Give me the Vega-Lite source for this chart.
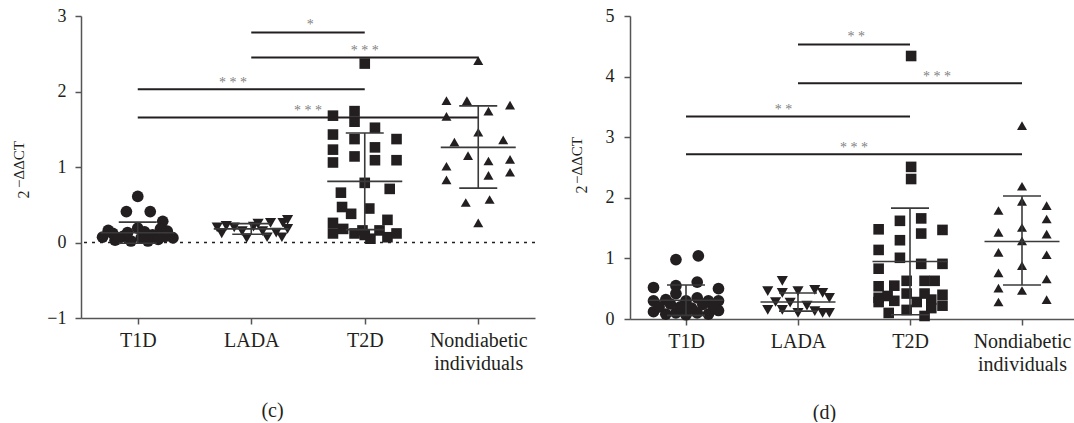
{
  "$schema": "https://vega.github.io/schema/vega-lite/v6.json",
  "background": "white",
  "padding": {"left": 11, "top": 7, "right": 0, "bottom": 0},
  "spacing": 33,
  "config": {
    "view": {"stroke": null},
    "font": "Liberation Serif",
    "style": {"guide-label": {"font": "Liberation Serif"}, "guide-title": {"font": "Liberation Serif"}},
    "axis": {
      "domainColor": "#555555", "tickColor": "#555555", "domainWidth": 1.5, "tickWidth": 1.5,
      "labelColor": "#231f20", "titleColor": "#231f20", "labelFont": "Liberation Serif", "titleFont": "Liberation Serif",
      "labelFontSize": 18, "titleFontWeight": "normal", "grid": false, "tickSize": 6
    }
  },
  "datasets": {
    "c_pts": [
      {"group": "T1D", "x": 1.00, "value": 0.61}, {"group": "T1D", "x": 0.90, "value": 0.41}, {"group": "T1D", "x": 1.11, "value": 0.41},
      {"group": "T1D", "x": 1.22, "value": 0.28}, {"group": "T1D", "x": 1.00, "value": 0.19}, {"group": "T1D", "x": 0.74, "value": 0.16},
      {"group": "T1D", "x": 0.69, "value": 0.07}, {"group": "T1D", "x": 0.80, "value": 0.03}, {"group": "T1D", "x": 0.87, "value": 0.08},
      {"group": "T1D", "x": 0.94, "value": 0.02}, {"group": "T1D", "x": 1.03, "value": 0.06}, {"group": "T1D", "x": 1.09, "value": 0.02},
      {"group": "T1D", "x": 1.13, "value": 0.10}, {"group": "T1D", "x": 1.18, "value": 0.04}, {"group": "T1D", "x": 1.24, "value": 0.08},
      {"group": "T1D", "x": 1.31, "value": 0.06}, {"group": "T1D", "x": 0.78, "value": 0.12}, {"group": "T1D", "x": 1.06, "value": 0.14},
      {"group": "T1D", "x": 0.91, "value": 0.13}, {"group": "T1D", "x": 1.26, "value": 0.15}, {"group": "T1D", "x": 1.20, "value": 0.18},
      {"group": "T1D", "x": 0.83, "value": 0.05},
      {"group": "LADA", "x": 1.70, "value": 0.20}, {"group": "LADA", "x": 1.78, "value": 0.22}, {"group": "LADA", "x": 1.85, "value": 0.20},
      {"group": "LADA", "x": 1.92, "value": 0.15}, {"group": "LADA", "x": 1.96, "value": 0.06}, {"group": "LADA", "x": 2.02, "value": 0.21},
      {"group": "LADA", "x": 2.06, "value": 0.25}, {"group": "LADA", "x": 2.10, "value": 0.15}, {"group": "LADA", "x": 2.14, "value": 0.07},
      {"group": "LADA", "x": 2.17, "value": 0.26}, {"group": "LADA", "x": 2.22, "value": 0.13}, {"group": "LADA", "x": 2.27, "value": 0.07},
      {"group": "LADA", "x": 2.28, "value": 0.26}, {"group": "LADA", "x": 2.32, "value": 0.30}, {"group": "LADA", "x": 2.32, "value": 0.18},
      {"group": "LADA", "x": 1.74, "value": 0.12},
      {"group": "T2D", "x": 3.00, "value": 2.37}, {"group": "T2D", "x": 2.72, "value": 1.68}, {"group": "T2D", "x": 2.91, "value": 1.74},
      {"group": "T2D", "x": 2.91, "value": 1.60}, {"group": "T2D", "x": 3.09, "value": 1.52}, {"group": "T2D", "x": 2.72, "value": 1.43},
      {"group": "T2D", "x": 2.91, "value": 1.37}, {"group": "T2D", "x": 3.28, "value": 1.37}, {"group": "T2D", "x": 3.09, "value": 1.26},
      {"group": "T2D", "x": 2.72, "value": 1.23}, {"group": "T2D", "x": 2.72, "value": 1.06}, {"group": "T2D", "x": 2.91, "value": 1.14},
      {"group": "T2D", "x": 3.09, "value": 1.09}, {"group": "T2D", "x": 3.28, "value": 1.09}, {"group": "T2D", "x": 3.00, "value": 0.79},
      {"group": "T2D", "x": 3.22, "value": 0.71}, {"group": "T2D", "x": 2.79, "value": 0.66}, {"group": "T2D", "x": 2.80, "value": 0.47},
      {"group": "T2D", "x": 2.88, "value": 0.38}, {"group": "T2D", "x": 3.04, "value": 0.45}, {"group": "T2D", "x": 3.20, "value": 0.30},
      {"group": "T2D", "x": 2.72, "value": 0.26}, {"group": "T2D", "x": 2.72, "value": 0.12}, {"group": "T2D", "x": 2.81, "value": 0.18},
      {"group": "T2D", "x": 2.91, "value": 0.12}, {"group": "T2D", "x": 2.98, "value": 0.16}, {"group": "T2D", "x": 3.05, "value": 0.05},
      {"group": "T2D", "x": 3.13, "value": 0.16}, {"group": "T2D", "x": 3.20, "value": 0.07}, {"group": "T2D", "x": 3.28, "value": 0.12},
      {"group": "T2D", "x": 3.00, "value": 0.10},
      {"group": "Nondiabetic individuals", "x": 4.00, "value": 2.41}, {"group": "Nondiabetic individuals", "x": 3.72, "value": 1.88},
      {"group": "Nondiabetic individuals", "x": 3.90, "value": 1.88}, {"group": "Nondiabetic individuals", "x": 4.28, "value": 1.82},
      {"group": "Nondiabetic individuals", "x": 4.09, "value": 1.74}, {"group": "Nondiabetic individuals", "x": 3.72, "value": 1.67},
      {"group": "Nondiabetic individuals", "x": 4.00, "value": 1.46}, {"group": "Nondiabetic individuals", "x": 3.79, "value": 1.33},
      {"group": "Nondiabetic individuals", "x": 4.22, "value": 1.36}, {"group": "Nondiabetic individuals", "x": 3.91, "value": 1.15},
      {"group": "Nondiabetic individuals", "x": 4.09, "value": 1.08}, {"group": "Nondiabetic individuals", "x": 4.28, "value": 1.10},
      {"group": "Nondiabetic individuals", "x": 3.72, "value": 1.01}, {"group": "Nondiabetic individuals", "x": 4.09, "value": 0.89},
      {"group": "Nondiabetic individuals", "x": 4.28, "value": 0.93}, {"group": "Nondiabetic individuals", "x": 3.72, "value": 0.83},
      {"group": "Nondiabetic individuals", "x": 3.89, "value": 0.53}, {"group": "Nondiabetic individuals", "x": 4.10, "value": 0.57},
      {"group": "Nondiabetic individuals", "x": 4.00, "value": 0.26}
    ],
    "c_sum": [
      {"group": "T1D", "pos": 1, "mean": 0.13, "lo": -0.01, "hi": 0.27},
      {"group": "LADA", "pos": 2, "mean": 0.18, "lo": 0.11, "hi": 0.25},
      {"group": "T2D", "pos": 3, "mean": 0.81, "lo": 0.17, "hi": 1.45},
      {"group": "Nondiabetic individuals", "pos": 4, "mean": 1.26, "lo": 0.72, "hi": 1.81}
    ],
    "c_sig": [
      {"from": 1, "to": 4, "y": 1.655, "label": "* * *", "lx": 2.5, "ly": 1.69},
      {"from": 1, "to": 3, "y": 2.03, "label": "* * *", "lx": 1.84, "ly": 2.06},
      {"from": 2, "to": 4, "y": 2.45, "label": "* * *", "lx": 3.0, "ly": 2.48},
      {"from": 2, "to": 3, "y": 2.78, "label": "*", "lx": 2.52, "ly": 2.83}
    ],
    "d_pts": [
      {"group": "T1D", "x": 0.91, "value": 0.98}, {"group": "T1D", "x": 1.11, "value": 1.04}, {"group": "T1D", "x": 1.10, "value": 0.61},
      {"group": "T1D", "x": 0.71, "value": 0.52}, {"group": "T1D", "x": 0.91, "value": 0.55}, {"group": "T1D", "x": 1.29, "value": 0.50},
      {"group": "T1D", "x": 0.71, "value": 0.30}, {"group": "T1D", "x": 0.82, "value": 0.32}, {"group": "T1D", "x": 1.00, "value": 0.30},
      {"group": "T1D", "x": 1.10, "value": 0.35}, {"group": "T1D", "x": 1.20, "value": 0.30}, {"group": "T1D", "x": 1.29, "value": 0.30},
      {"group": "T1D", "x": 0.91, "value": 0.42}, {"group": "T1D", "x": 0.71, "value": 0.12}, {"group": "T1D", "x": 0.82, "value": 0.08},
      {"group": "T1D", "x": 0.91, "value": 0.10}, {"group": "T1D", "x": 1.00, "value": 0.07}, {"group": "T1D", "x": 1.10, "value": 0.10},
      {"group": "T1D", "x": 1.20, "value": 0.08}, {"group": "T1D", "x": 1.29, "value": 0.14}, {"group": "T1D", "x": 0.76, "value": 0.20},
      {"group": "T1D", "x": 0.95, "value": 0.20}, {"group": "T1D", "x": 1.05, "value": 0.18}, {"group": "T1D", "x": 1.24, "value": 0.22},
      {"group": "T1D", "x": 0.86, "value": 0.25}, {"group": "T1D", "x": 1.15, "value": 0.24},
      {"group": "LADA", "x": 1.86, "value": 0.63}, {"group": "LADA", "x": 1.73, "value": 0.46}, {"group": "LADA", "x": 1.86, "value": 0.43},
      {"group": "LADA", "x": 1.73, "value": 0.15}, {"group": "LADA", "x": 1.86, "value": 0.15}, {"group": "LADA", "x": 1.80, "value": 0.28},
      {"group": "LADA", "x": 2.00, "value": 0.46}, {"group": "LADA", "x": 2.15, "value": 0.48}, {"group": "LADA", "x": 2.22, "value": 0.43},
      {"group": "LADA", "x": 2.28, "value": 0.35}, {"group": "LADA", "x": 1.93, "value": 0.27}, {"group": "LADA", "x": 2.08, "value": 0.22},
      {"group": "LADA", "x": 2.00, "value": 0.10}, {"group": "LADA", "x": 2.15, "value": 0.13}, {"group": "LADA", "x": 2.22, "value": 0.10},
      {"group": "LADA", "x": 2.28, "value": 0.10},
      {"group": "T2D", "x": 3.01, "value": 4.34}, {"group": "T2D", "x": 3.01, "value": 2.51}, {"group": "T2D", "x": 3.01, "value": 2.31},
      {"group": "T2D", "x": 2.72, "value": 1.48}, {"group": "T2D", "x": 2.91, "value": 1.62}, {"group": "T2D", "x": 3.10, "value": 1.66},
      {"group": "T2D", "x": 3.10, "value": 1.41}, {"group": "T2D", "x": 3.29, "value": 1.47}, {"group": "T2D", "x": 2.91, "value": 1.30},
      {"group": "T2D", "x": 2.72, "value": 1.14}, {"group": "T2D", "x": 2.91, "value": 1.01}, {"group": "T2D", "x": 2.72, "value": 0.83},
      {"group": "T2D", "x": 3.10, "value": 0.91}, {"group": "T2D", "x": 3.29, "value": 0.91}, {"group": "T2D", "x": 2.72, "value": 0.54},
      {"group": "T2D", "x": 2.97, "value": 0.63}, {"group": "T2D", "x": 3.13, "value": 0.63}, {"group": "T2D", "x": 3.22, "value": 0.63},
      {"group": "T2D", "x": 2.86, "value": 0.55}, {"group": "T2D", "x": 2.72, "value": 0.35}, {"group": "T2D", "x": 2.80, "value": 0.38},
      {"group": "T2D", "x": 3.29, "value": 0.40}, {"group": "T2D", "x": 2.97, "value": 0.42}, {"group": "T2D", "x": 3.13, "value": 0.42},
      {"group": "T2D", "x": 2.72, "value": 0.28}, {"group": "T2D", "x": 2.86, "value": 0.30}, {"group": "T2D", "x": 3.06, "value": 0.28},
      {"group": "T2D", "x": 3.19, "value": 0.32}, {"group": "T2D", "x": 2.81, "value": 0.10}, {"group": "T2D", "x": 2.97, "value": 0.15},
      {"group": "T2D", "x": 3.13, "value": 0.05}, {"group": "T2D", "x": 3.19, "value": 0.18}, {"group": "T2D", "x": 3.29, "value": 0.22},
      {"group": "Nondiabetic individuals", "x": 4.00, "value": 3.19}, {"group": "Nondiabetic individuals", "x": 4.00, "value": 2.19},
      {"group": "Nondiabetic individuals", "x": 3.79, "value": 1.79}, {"group": "Nondiabetic individuals", "x": 4.00, "value": 1.94},
      {"group": "Nondiabetic individuals", "x": 4.22, "value": 1.87}, {"group": "Nondiabetic individuals", "x": 4.22, "value": 1.65},
      {"group": "Nondiabetic individuals", "x": 3.79, "value": 1.43}, {"group": "Nondiabetic individuals", "x": 4.00, "value": 1.51},
      {"group": "Nondiabetic individuals", "x": 4.22, "value": 1.40}, {"group": "Nondiabetic individuals", "x": 4.00, "value": 1.29},
      {"group": "Nondiabetic individuals", "x": 3.79, "value": 1.10}, {"group": "Nondiabetic individuals", "x": 4.22, "value": 1.06},
      {"group": "Nondiabetic individuals", "x": 4.00, "value": 0.88}, {"group": "Nondiabetic individuals", "x": 3.79, "value": 0.76},
      {"group": "Nondiabetic individuals", "x": 4.22, "value": 0.66}, {"group": "Nondiabetic individuals", "x": 3.79, "value": 0.51},
      {"group": "Nondiabetic individuals", "x": 4.00, "value": 0.47}, {"group": "Nondiabetic individuals", "x": 3.79, "value": 0.28},
      {"group": "Nondiabetic individuals", "x": 4.22, "value": 0.32}
    ],
    "d_sum": [
      {"group": "T1D", "pos": 1, "mean": 0.31, "lo": 0.06, "hi": 0.56},
      {"group": "LADA", "pos": 2, "mean": 0.28, "lo": 0.13, "hi": 0.43},
      {"group": "T2D", "pos": 3, "mean": 0.95, "lo": 0.07, "hi": 1.83},
      {"group": "Nondiabetic individuals", "pos": 4, "mean": 1.28, "lo": 0.56, "hi": 2.03}
    ],
    "d_sig": [
      {"from": 1, "to": 4, "y": 2.72, "label": "* * *", "lx": 2.5, "ly": 2.76},
      {"from": 1, "to": 3, "y": 3.34, "label": "* *", "lx": 1.87, "ly": 3.38},
      {"from": 2, "to": 4, "y": 3.89, "label": "* * *", "lx": 3.24, "ly": 3.93},
      {"from": 2, "to": 3, "y": 4.53, "label": "* *", "lx": 2.52, "ly": 4.58}
    ]
  },
  "hconcat": [
    {
      "width": 454,
      "height": 302,
      "resolve": {"axis": {"y": "independent"}},
      "layer": [
        {
          "layer": [
            {
              "data": {"values": [{"v": 0}]},
              "mark": {"type": "rule", "strokeDash": [3, 5], "color": "#231f20", "strokeWidth": 1.3},
              "encoding": {"y": {"field": "v", "type": "quantitative", "scale": {"domain": [-1, 3], "nice": false}}}
            },
            {
              "data": {"name": "c_pts"},
              "mark": {"type": "point", "filled": true, "opacity": 1, "color": "#231f20"},
              "encoding": {
                "x": {"field": "x", "type": "quantitative", "scale": {"domain": [0.5, 4.5], "nice": false, "zero": false},
                  "axis": {"values": [1, 2, 3, 4], "labelExpr": "datum.value == 1 ? 'T1D' : datum.value == 2 ? 'LADA' : datum.value == 3 ? 'T2D' : ['Nondiabetic', 'individuals']",
                    "labelFont": "Liberation Serif", "titleFont": "Liberation Serif",
                    "labelFontSize": 20, "labelPadding": 6, "labelLineHeight": 23, "labelOverlap": false, "labelFlush": false,
                    "title": "(c)", "titleFontSize": 20, "titleX": 191, "titleY": 92, "titleBaseline": "middle", "titleAlign": "center"}},
                "y": {"field": "value", "type": "quantitative", "scale": {"domain": [-1, 3], "nice": false},
                  "axis": {"orient": "left", "values": [-1, 0, 1, 2, 3], "format": "d", "labelFont": "Liberation Serif", "titleFont": "Liberation Serif",
                    "labelPadding": 9, "title": "2", "titleFontSize": 16, "titleX": -53, "titleY": 178,
                    "titleAngle": -90, "titleAlign": "center", "titleBaseline": "alphabetic"}},
                "shape": {"field": "group", "type": "nominal", "legend": null,
                  "scale": {"domain": ["T1D", "LADA", "T2D", "Nondiabetic individuals"], "range": ["circle", "triangle-down", "square", "triangle-up"]}},
                "size": {"field": "group", "type": "nominal", "legend": null,
                  "scale": {"domain": ["T1D", "LADA", "T2D", "Nondiabetic individuals"], "range": [137, 100, 161, 120]}}
              }
            },
            {
              "data": {"name": "c_sum"},
              "mark": {"type": "tick", "orient": "horizontal", "size": 75, "thickness": 1.6, "color": "#3a3a3a", "opacity": 1},
              "encoding": {"x": {"field": "pos", "type": "quantitative"}, "y": {"field": "mean", "type": "quantitative"}}
            },
            {
              "data": {"name": "c_sum"},
              "mark": {"type": "tick", "orient": "horizontal", "size": 38, "thickness": 1.6, "color": "#3a3a3a", "opacity": 1},
              "encoding": {"x": {"field": "pos", "type": "quantitative"}, "y": {"field": "hi", "type": "quantitative"}}
            },
            {
              "data": {"name": "c_sum"},
              "mark": {"type": "tick", "orient": "horizontal", "size": 38, "thickness": 1.6, "color": "#3a3a3a", "opacity": 1},
              "encoding": {"x": {"field": "pos", "type": "quantitative"}, "y": {"field": "lo", "type": "quantitative"}}
            },
            {
              "data": {"name": "c_sig"},
              "mark": {"type": "rule", "color": "#231f20", "strokeWidth": 2},
              "encoding": {"x": {"field": "from", "type": "quantitative"}, "x2": {"field": "to"}, "y": {"field": "y", "type": "quantitative"}}
            },
            {
              "data": {"name": "c_sig"},
              "mark": {"type": "text", "color": "#7f7f7f", "fontSize": 14, "baseline": "alphabetic", "align": "center", "font": "Liberation Serif"},
              "encoding": {"x": {"field": "lx", "type": "quantitative"}, "y": {"field": "ly", "type": "quantitative"}, "text": {"field": "label"}}
            }
          ]
        },
        {
          "data": {"name": "c_sum"},
          "mark": {"type": "rule", "color": "#3a3a3a", "strokeWidth": 1.6},
          "encoding": {
            "x": {"field": "pos", "type": "quantitative"},
            "y": {"field": "lo", "type": "quantitative", "scale": {"domain": [-1, 3], "nice": false},
              "axis": {"orient": "left", "domain": false, "ticks": false, "labels": false, "title": "−ΔΔCT", "titleFont": "Liberation Serif", "titleFontSize": 15,
                "titleX": -58, "titleY": 148, "titleAngle": -90, "titleAlign": "center", "titleBaseline": "alphabetic"}},
            "y2": {"field": "hi"}
          }
        }
      ]
    },
    {
      "width": 448,
      "height": 303,
      "resolve": {"axis": {"y": "independent"}},
      "layer": [
        {
          "layer": [
            {
              "data": {"name": "d_pts"},
              "mark": {"type": "point", "filled": true, "opacity": 1, "color": "#231f20"},
              "encoding": {
                "x": {"field": "x", "type": "quantitative", "scale": {"domain": [0.5, 4.5], "nice": false, "zero": false},
                  "axis": {"values": [1, 2, 3, 4], "labelExpr": "datum.value == 1 ? 'T1D' : datum.value == 2 ? 'LADA' : datum.value == 3 ? 'T2D' : ['Nondiabetic', 'individuals']",
                    "labelFont": "Liberation Serif", "titleFont": "Liberation Serif",
                    "labelFontSize": 20, "labelPadding": 6, "labelLineHeight": 23, "labelOverlap": false, "labelFlush": false,
                    "title": "(d)", "titleFontSize": 20, "titleX": 194, "titleY": 93, "titleBaseline": "middle", "titleAlign": "center"}},
                "y": {"field": "value", "type": "quantitative", "scale": {"domain": [0, 5], "nice": false},
                  "axis": {"orient": "left", "values": [0, 1, 2, 3, 4, 5], "format": "d", "labelFont": "Liberation Serif", "titleFont": "Liberation Serif",
                    "labelPadding": 10, "title": "2", "titleFontSize": 16, "titleX": -44, "titleY": 173,
                    "titleAngle": -90, "titleAlign": "center", "titleBaseline": "alphabetic"}},
                "shape": {"field": "group", "type": "nominal", "legend": null,
                  "scale": {"domain": ["T1D", "LADA", "T2D", "Nondiabetic individuals"], "range": ["circle", "triangle-down", "square", "triangle-up"]}},
                "size": {"field": "group", "type": "nominal", "legend": null,
                  "scale": {"domain": ["T1D", "LADA", "T2D", "Nondiabetic individuals"], "range": [140, 100, 152, 120]}}
              }
            },
            {
              "data": {"name": "d_sum"},
              "mark": {"type": "tick", "orient": "horizontal", "size": 75, "thickness": 1.6, "color": "#3a3a3a", "opacity": 1},
              "encoding": {"x": {"field": "pos", "type": "quantitative"}, "y": {"field": "mean", "type": "quantitative"}}
            },
            {
              "data": {"name": "d_sum"},
              "mark": {"type": "tick", "orient": "horizontal", "size": 38, "thickness": 1.6, "color": "#3a3a3a", "opacity": 1},
              "encoding": {"x": {"field": "pos", "type": "quantitative"}, "y": {"field": "hi", "type": "quantitative"}}
            },
            {
              "data": {"name": "d_sum"},
              "mark": {"type": "tick", "orient": "horizontal", "size": 38, "thickness": 1.6, "color": "#3a3a3a", "opacity": 1},
              "encoding": {"x": {"field": "pos", "type": "quantitative"}, "y": {"field": "lo", "type": "quantitative"}}
            },
            {
              "data": {"name": "d_sig"},
              "mark": {"type": "rule", "color": "#231f20", "strokeWidth": 2},
              "encoding": {"x": {"field": "from", "type": "quantitative"}, "x2": {"field": "to"}, "y": {"field": "y", "type": "quantitative"}}
            },
            {
              "data": {"name": "d_sig"},
              "mark": {"type": "text", "color": "#7f7f7f", "fontSize": 14, "baseline": "alphabetic", "align": "center", "font": "Liberation Serif"},
              "encoding": {"x": {"field": "lx", "type": "quantitative"}, "y": {"field": "ly", "type": "quantitative"}, "text": {"field": "label"}}
            }
          ]
        },
        {
          "data": {"name": "d_sum"},
          "mark": {"type": "rule", "color": "#3a3a3a", "strokeWidth": 1.6},
          "encoding": {
            "x": {"field": "pos", "type": "quantitative"},
            "y": {"field": "lo", "type": "quantitative", "scale": {"domain": [0, 5], "nice": false},
              "axis": {"orient": "left", "domain": false, "ticks": false, "labels": false, "title": "−ΔΔCT", "titleFont": "Liberation Serif", "titleFontSize": 15,
                "titleX": -49, "titleY": 144, "titleAngle": -90, "titleAlign": "center", "titleBaseline": "alphabetic"}},
            "y2": {"field": "hi"}
          }
        }
      ]
    }
  ]
}
